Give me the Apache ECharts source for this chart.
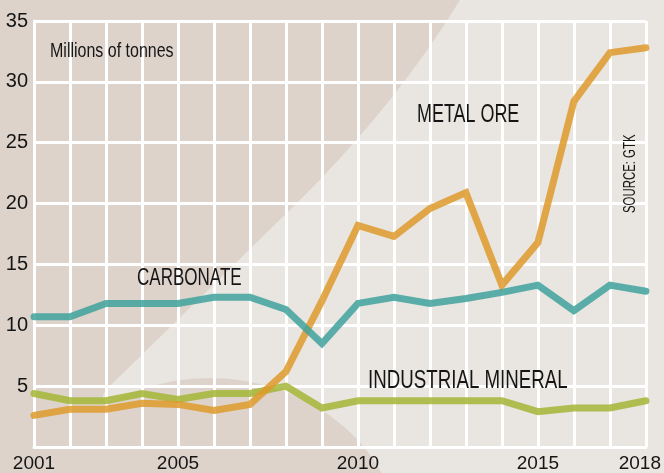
<!DOCTYPE html>
<html>
<head>
<meta charset="utf-8">
<script src="https://cdn.jsdelivr.net/npm/echarts@6/dist/echarts.min.js"></script>
<style>
html,body{margin:0;padding:0;background:#DDD3CB;}
#chart{width:664px;height:473px;}
</style>
</head>
<body>
<div id="chart"></div>
<script>
var years = ['2001','2002','2003','2004','2005','2006','2007','2008','2009','2010','2011','2012','2013','2014','2015','2016','2017','2018'];
var labelYears = ['2001','2005','2010','2015','2018'];
var metalOre = [2.6, 3.1, 3.1, 3.6, 3.5, 3.0, 3.5, 6.2, 12.0, 18.2, 17.3, 19.6, 20.9, 13.3, 16.8, 28.4, 32.4, 32.8];
var carbonate = [10.7, 10.7, 11.8, 11.8, 11.8, 12.3, 12.3, 11.3, 8.5, 11.8, 12.3, 11.8, 12.2, 12.7, 13.3, 11.2, 13.3, 12.8];
var industrialMineral = [4.4, 3.8, 3.8, 4.4, 3.9, 4.4, 4.4, 5.0, 3.2, 3.8, 3.8, 3.8, 3.8, 3.8, 2.9, 3.2, 3.2, 3.8];
var yTicks = {min: 0, max: 35, interval: 5};

var AXFONT = '"Liberation Sans", Arial, sans-serif';
var TXT = '"Liberation Sans", Arial, sans-serif';
var chart = echarts.init(document.getElementById('chart'), null, {renderer: 'canvas'});

// decorative background shape (light wedge), sampled from a bezier edge
function cubic(p0, p1, p2, p3, n) {
  var pts = [];
  for (var i = 0; i <= n; i++) {
    var t = i / n, u = 1 - t;
    pts.push([
      u*u*u*p0[0] + 3*u*u*t*p1[0] + 3*u*t*t*p2[0] + t*t*t*p3[0],
      u*u*u*p0[1] + 3*u*u*t*p1[1] + 3*u*t*t*p2[1] + t*t*t*p3[1]
    ]);
  }
  return pts;
}
var wedge = cubic([460, 0], [420, 65], [370, 130], [300, 200], 20)
  .concat([[113, 383], [104, 393], [102, 399], [108, 402], [118, 403], [200, 473], [664, 473], [664, 0]]);

function lineSeries(name, data, color) {
  return {
    name: name, type: 'line', data: data, symbol: 'none', smooth: false,
    lineStyle: {color: color, width: 7, opacity: 0.85, cap: 'round', join: 'miter'},
    emphasis: {disabled: true}, z: 3
  };
}
function label(text, x, y, size, sx, rot) {
  return {type: 'text', z: 100, silent: true, x: x, y: y, scaleX: sx, rotation: rot || 0,
    style: {text: text, font: size + 'px ' + TXT, fill: '#151515', textAlign: 'left', textVerticalAlign: 'middle'}};
}

chart.setOption({
  animation: false,
  backgroundColor: '#DDD3CB',
  grid: {left: 34, right: 16, top: 21, bottom: 25},
  xAxis: {
    type: 'category', data: years, boundaryGap: false,
    axisLine: {show: true, lineStyle: {color: '#ffffff', width: 3}},
    axisTick: {show: false},
    splitLine: {show: true, interval: 0, lineStyle: {color: '#ffffff', width: 3}},
    axisLabel: {
      interval: function (i, v) { return labelYears.indexOf(v) >= 0; },
      formatter: function (v) { return v === years[years.length - 1] ? '{e|' + v + '}' : v; },
      color: '#151515', fontFamily: AXFONT, fontSize: 19, margin: 7,
      rich: {e: {color: '#151515', fontFamily: AXFONT, fontSize: 19, padding: [0, 12, 0, 0]}}
    }
  },
  yAxis: {
    type: 'value', min: yTicks.min, max: yTicks.max, interval: yTicks.interval,
    axisLine: {show: true, lineStyle: {color: '#ffffff', width: 3}},
    axisTick: {show: false},
    splitLine: {show: true, lineStyle: {color: '#ffffff', width: 3}},
    axisLabel: {
      showMinLabel: false, color: '#151515', fontFamily: AXFONT, fontSize: 20, margin: 6
    }
  },
  graphic: [
    {type: 'polygon', z: -10, silent: true,
     shape: {points: wedge},
     style: {fill: '#E9E5E0'}},
    {type: 'circle', z: -9, silent: true, x: 210, y: 545, scaleX: 190 / 167, scaleY: 1,
     shape: {cx: 0, cy: 0, r: 167},
     style: {fill: '#DDD3CB'}},
    label('Millions of tonnes', 50, 51, 20, 0.8),
    label('METAL ORE', 417, 115, 26, 0.69),
    label('CARBONATE', 137, 279, 23, 0.74),
    label('INDUSTRIAL MINERAL', 368, 381, 26, 0.72),
    label('SOURCE: GTK', 630, 213, 17, 0.67, Math.PI / 2)
  ],
  series: [
    lineSeries('Industrial mineral', industrialMineral, '#A4B636'),
    lineSeries('Metal ore', metalOre, '#DE9A2C'),
    lineSeries('Carbonate', carbonate, '#3FA29C')
  ]
});
</script>
</body>
</html>
